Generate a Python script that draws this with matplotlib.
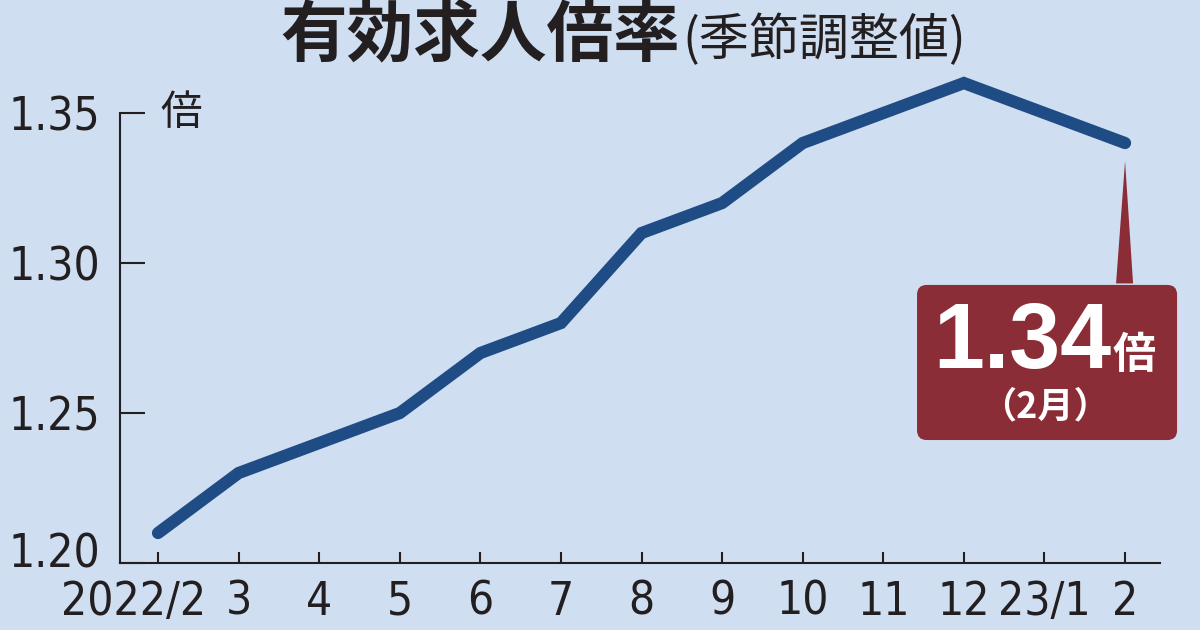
import matplotlib
matplotlib.use('Agg')
from matplotlib import pyplot as plt
from matplotlib import font_manager
from matplotlib import transforms
from matplotlib.patches import FancyBboxPatch, Polygon

# data
months = ['2022/2', '3', '4', '5', '6', '7', '8', '9', '10', '11', '12', '23/1', '2']
ratio = [1.21, 1.23, 1.24, 1.25, 1.27, 1.28, 1.31, 1.32, 1.34, 1.35, 1.36, 1.35, 1.34]
yticks = [1.20, 1.25, 1.30, 1.35]
ytick_labels = ['1.20', '1.25', '1.30', '1.35']

bg = '#cfdff1'
line_c = '#1f4c85'
box_c = '#8a2d37'
ink = '#231f20'
jp_font = ['Noto Sans CJK JP', 'DejaVu Sans']

# the tick numbers in the original are a narrow face; use one if there is any
narrow = [f for f in font_manager.fontManager.ttflist
          if ('Narrow' in f.name or 'Condensed' in f.name
              or f.stretch in ('condensed', 'semi-condensed'))
          and f.style == 'normal' and f.weight in (400, 'normal', 'regular')]
if narrow:
    num_kw = dict(fontproperties=font_manager.FontProperties(fname=narrow[0].fname, size=33))
else:
    num_kw = dict(family=['Liberation Sans', 'DejaVu Sans'], fontsize=30)

fig = plt.figure(figsize=(12, 6.3), dpi=100, facecolor=bg)
ax = fig.add_axes([0.1, 0.1063, 0.8667, 0.8095])
ax.set_facecolor(bg)

x = list(range(len(months)))
ax.plot(x, ratio, color=line_c, lw=8.8, solid_capstyle='round',
        solid_joinstyle='miter', clip_on=False, zorder=3)

ax.set_xlim(-0.4716, 12.434)
ax.set_ylim(1.20, 1.37)

for s in ['top', 'right']:
    ax.spines[s].set_visible(False)
for s in ['left', 'bottom']:
    ax.spines[s].set_color(ink)
    ax.spines[s].set_linewidth(1.5)
ax.spines['left'].set_bounds(1.20, 1.35)

ax.set_yticks(yticks)
ax.set_yticklabels(ytick_labels, color=ink, **num_kw)
ax.set_xticks(x)
ax.set_xticklabels(months, color=ink, **num_kw)
ax.tick_params(axis='y', direction='in', length=18, width=1.5, color=ink, pad=14)
ax.tick_params(axis='x', direction='in', length=8, width=1.5, color=ink, pad=12)

# the long first label sits a little left of its tick, as in the original
first = ax.get_xticklabels()[0]
first.set_transform(first.get_transform() +
                    transforms.ScaledTranslation(-0.24, 0, fig.dpi_scale_trans))
# and the bottom y label sits a little above the axis line
low = ax.get_yticklabels()[0]
low.set_transform(low.get_transform() +
                  transforms.ScaledTranslation(0, 0.13, fig.dpi_scale_trans))

# unit
fig.text(160 / 1200, 1 - 113 / 630, '倍', family=jp_font, fontsize=30,
         color=ink, ha='left', va='center')

# title
fig.text(680 / 1200, 1 - 36 / 630, '有効求人倍率', family=jp_font, fontsize=48,
         fontweight='bold', color=ink, ha='right', va='center')
fig.text(682 / 1200, 1 - 41 / 630, '(季節調整値)', family=jp_font, fontsize=36,
         color=ink, ha='left', va='center')

# callout box
last = len(ratio) - 1
px = 1 / 80.58   # data x per pixel
py = 1 / 3000.0  # data y per pixel
bx0 = last - 208 * px
bx1 = last + 52 * px
by1 = 1.2927
by0 = 1.2410
box = FancyBboxPatch((bx0, by0), bx1 - bx0, by1 - by0,
                     boxstyle='round,pad=0,rounding_size=0.12',
                     mutation_aspect=py / px, fc=box_c, ec='none',
                     clip_on=False, zorder=4)
ax.add_patch(box)
tip = Polygon([(last - 9 * px, by1 + 0.0005), (last + 8 * px, by1 + 0.0005),
               (last, ratio[last] - 0.006)], closed=True, fc=box_c, ec='none',
              clip_on=False, zorder=4)
ax.add_patch(tip)

ax.text(last - 14 * px, by1 - 83 * py, f'{ratio[last]:.2f}',
        family=['Liberation Sans', 'DejaVu Sans'],
        fontsize=66, fontweight='bold', color='white', ha='right', va='baseline', zorder=5)
ax.text(last - 12 * px, by1 - 83 * py, '倍', family=jp_font, fontsize=31,
        fontweight='bold', color='white', ha='left', va='baseline', zorder=5)
ax.text(last - 80 * px, by1 - 122 * py, '（2月）', family=jp_font, fontsize=26,
        fontweight='bold', color='white', ha='center', va='center', zorder=5)

fig.savefig('out.png', dpi=100, facecolor=bg)
